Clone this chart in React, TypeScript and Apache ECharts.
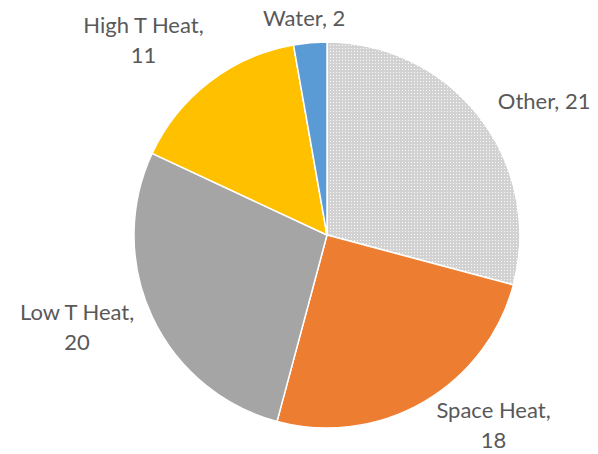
import React, { useEffect, useRef } from "react";
import * as echarts from "echarts";

// Energy use by end-use category, clockwise from 12 o'clock
const categories = ["Other", "Space Heat", "Low T Heat", "High T Heat", "Water"];
const values = [21, 18, 20, 11, 2];
const colors = ["#d2d2d2", "#ED7D31", "#A5A5A5", "#FFC000", "#5B9BD5"];

// Label nudges (px) from the outer midpoint of each slice to the label's centre
const labelOffsets: [number, number][] = [
  [64, -17],
  [70, 22],
  [-75, 10],
  [-66, -42],
  [-6, -25],
];

export default function App() {
  const ref = useRef<HTMLDivElement>(null);

  useEffect(() => {
    if (!ref.current) return;
    const chart = echarts.init(ref.current, null, { renderer: "svg" });

    const data = categories.map((name, i) => {
      const item: any = {
        name,
        value: values[i],
        itemStyle: { color: colors[i] },
        label: {
          formatter: i === 0 || i === 4 ? "{b}, {c}" : "{b},\n{c}",
        },
      };
      if (name === "Other") {
        item.itemStyle.decal = {
          symbol: "rect",
          symbolSize: 1,
          color: "rgba(255,255,255,0.85)",
          dashArrayX: [1, 2],
          dashArrayY: [1, 2],
          rotation: 0,
        };
      }
      return item;
    });

    chart.setOption({
      animation: false,
      backgroundColor: "#ffffff",
      series: [
        {
          type: "pie",
          center: [327, 235],
          radius: 193,
          startAngle: 90,
          clockwise: true,
          avoidLabelOverlap: false,
          data,
          itemStyle: { borderColor: "#ffffff", borderWidth: 1.5 },
          label: {
            show: true,
            position: "outside",
            color: "#595959",
            fontFamily: "Lato",
            fontSize: 22,
            lineHeight: 30,
            align: "center",
          },
          labelLine: { show: false, length: 10, length2: 0 },
          emphasis: { disabled: true },
          labelLayout: (p: any) => {
            try {
              const lay = (chart as any)
                .getModel()
                .getSeriesByIndex(0)
                .getData()
                .getItemLayout(p.dataIndex);
              const mid = (lay.startAngle + lay.endAngle) / 2;
              const ex = lay.cx + lay.r * Math.cos(mid);
              const ey = lay.cy + lay.r * Math.sin(mid);
              const [ox, oy] = labelOffsets[p.dataIndex];
              return {
                x: ex + ox,
                y: ey + oy,
                align: "center",
                verticalAlign: "middle",
              };
            } catch (e) {
              return {};
            }
          },
        },
      ],
    });

    return () => chart.dispose();
  }, []);

  return (
    <div
      ref={ref}
      style={{ position: "fixed", left: 0, top: 0, width: 598, height: 454 }}
    />
  );
}
